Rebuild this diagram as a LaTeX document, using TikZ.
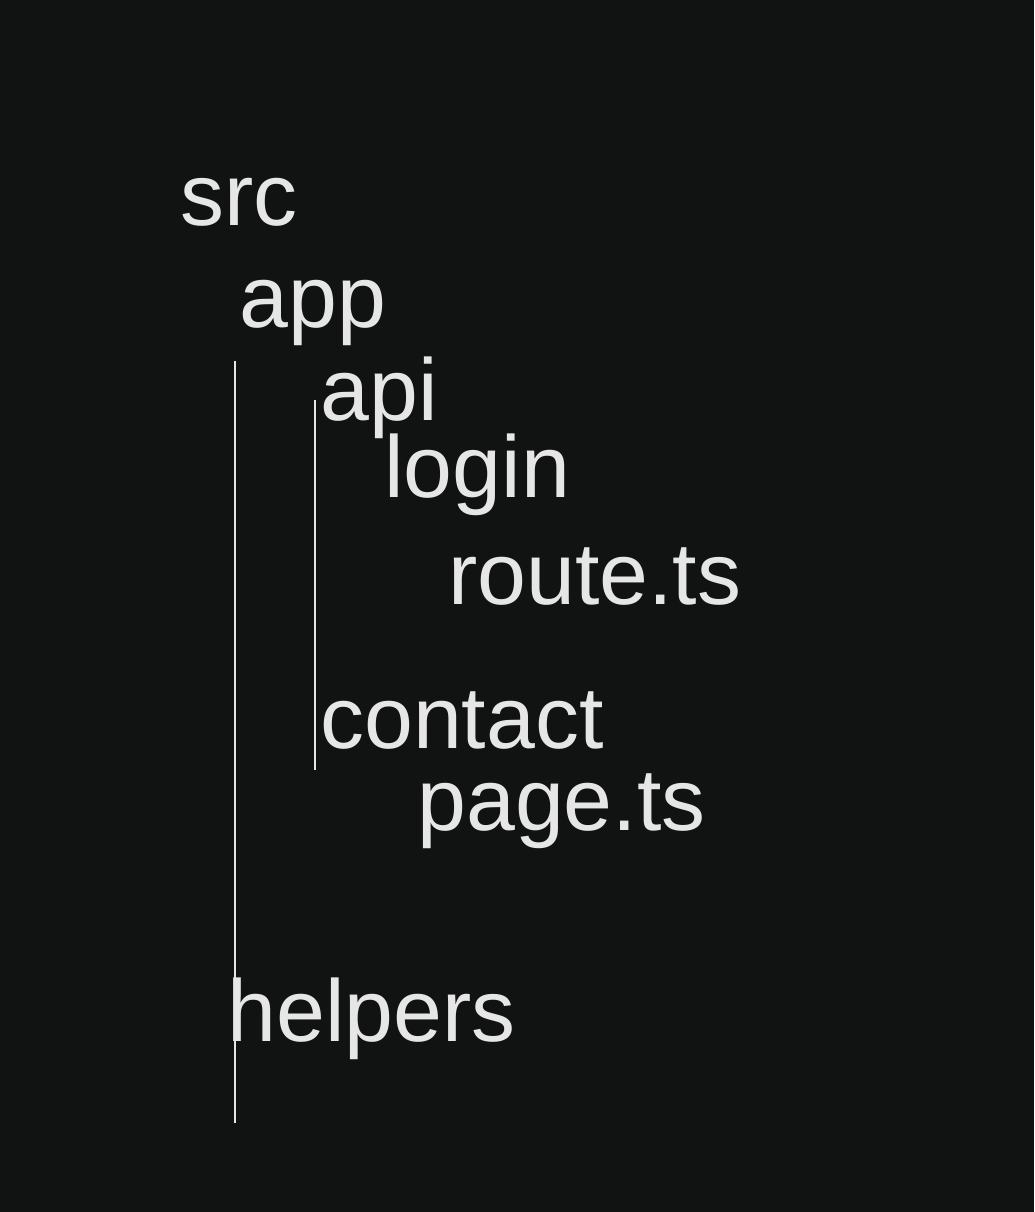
\documentclass[tikz,border=0pt]{standalone}
\usepackage{fontspec}
\setmainfont{Liberation Sans}
\usepackage{xcolor}
\usepackage{tikz}
\usetikzlibrary{positioning}

\definecolor{bgdark}{HTML}{111212}
\definecolor{inkgrey}{HTML}{E6E6E6}

\begin{document}
\begin{tikzpicture}[
    x=0.02cm, y=-0.02cm,
    entry/.style={anchor=base west, inner sep=0pt, text=inkgrey, font=\fontsize{50}{50}\selectfont},
    guide/.style={draw=inkgrey, line width=1.4pt}
]

\fill[bgdark] (0,0) rectangle (1034,1212);
\useasboundingbox (0,0) rectangle (1034,1212);

\node[entry] (src) at (180, 226) {src};
\node[entry] (app) at (239, 328) {app};
\node[entry] (api) at (320, 420) {api};
\node[entry] (login) at (384, 497) {login};
\node[entry] (route) at (448, 604) {route.ts};
\node[entry] (contact) at (320, 748) {contact};
\node[entry] (page) at (417, 830) {page.ts};
\node[entry] (helpers) at (227, 1041) {helpers};

\coordinate (appTop) at (235, 361);
\coordinate (appEnd) at (235, 1123);
\coordinate (apiTop) at (315, 400);
\coordinate (apiEnd) at (315, 770);
\draw[guide] (appTop) -- (appEnd);
\draw[guide] (apiTop) -- (apiEnd);

\end{tikzpicture}
\end{document}
